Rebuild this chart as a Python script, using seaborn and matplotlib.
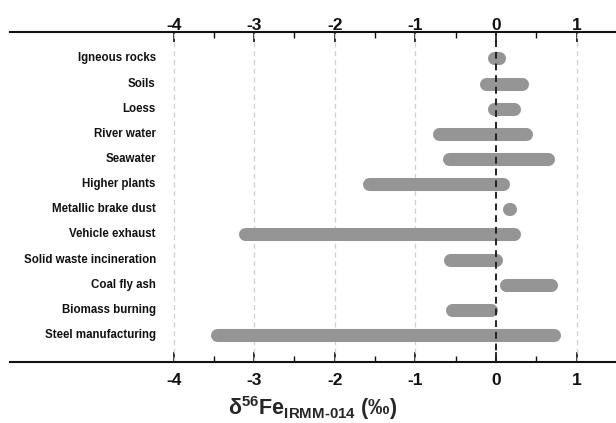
import numpy as np
import pandas as pd
import matplotlib
matplotlib.use("Agg")
import matplotlib.pyplot as plt
import seaborn as sns

# Sources of Fe and their d56Fe ranges (visual extent of each bar, per mil)
sources = ["Igneous rocks", "Soils", "Loess", "River water", "Seawater",
           "Higher plants", "Metallic brake dust", "Vehicle exhaust",
           "Solid waste incineration", "Coal fly ash", "Biomass burning",
           "Steel manufacturing"]
d56_min = [-0.11, -0.20, -0.11, -0.79, -0.66, -1.65, 0.12, -3.20, -0.65, 0.04, -0.62, -3.54]
d56_max = [0.12, 0.40, 0.30, 0.45, 0.73, 0.17, 0.21, 0.30, 0.08, 0.76, 0.02, 0.80]
major_ticks = [-4, -3, -2, -1, 0, 1]
minor_ticks = [-3.5, -2.5, -1.5, -0.5, 0.5]

df = pd.DataFrame({"source": sources, "lo": d56_min, "hi": d56_max})
df["y"] = np.arange(len(df))

sns.set_style("white")
plt.rcParams["font.family"] = ["Liberation Sans", "DejaVu Sans"]
plt.rcParams["mathtext.fontset"] = "custom"
plt.rcParams["mathtext.rm"] = "Liberation Sans:bold"
plt.rcParams["mathtext.bf"] = "Liberation Sans:bold"
plt.rcParams["mathtext.default"] = "bf"

fig = plt.figure(figsize=(6.16, 4.23), dpi=100)
ax = fig.add_axes([10 / 616, 61 / 423, 606 / 616, 330 / 423])
ax.set_xlim(-6.03, 1.49)
ax.set_ylim(len(df) - 1 + 1.07, -1.05)

# grid lines at major ticks, dashed black line at zero
for t in major_ticks:
    if t == 0:
        ax.axvline(t, color="#222222", lw=1.4, ls=(0, (3.5, 2.5)), zorder=3)
    else:
        ax.axvline(t, color="#cfcfcf", lw=0.9, ls=(0, (4, 3)), zorder=1)

# range bars with round ends (shrink ends by the cap radius)
lw_pt = 9.4
px_per_unit = 606 / (1.49 + 6.03)
cap = (lw_pt / 72 * 100 / 2) / px_per_unit
for _, r in df.iterrows():
    half = (r.hi - r.lo) / 2
    c = min(cap, half - 0.004)
    ax.plot([r.lo + c, r.hi - c], [r.y, r.y], color="#959595", lw=lw_pt,
            solid_capstyle="round", zorder=2)
    ax.text(-4.22, r.y, r.source, ha="right", va="center", fontsize=8.3,
            fontweight="bold", color="#111111")

ax.set_yticks([])
ax.set_xticks(major_ticks)
ax.set_xticklabels([str(t) for t in major_ticks], fontweight="bold")
ax.set_xticks(minor_ticks, minor=True)
ax.tick_params(axis="x", which="major", direction="in", length=7, width=1.2,
               top=True, bottom=True, labeltop=False, labelbottom=True,
               labelsize=12.5, pad=8, colors="#111111")
ax.tick_params(axis="x", which="minor", direction="in", length=4.5, width=1.0,
               top=True, bottom=True, colors="#111111")
for side in ["left", "right"]:
    ax.spines[side].set_visible(False)
for side in ["top", "bottom"]:
    ax.spines[side].set_linewidth(1.5)
    ax.spines[side].set_color("#111111")

# labels along the top edge
top = ax.secondary_xaxis("top")
top.set_xticks(major_ticks)
top.set_xticklabels([str(t) for t in major_ticks], fontweight="bold")
top.tick_params(axis="x", length=0, pad=-0.5, labelsize=12.5, colors="#111111")
top.spines["top"].set_visible(False)

ax.set_xlabel(r"δ$^{56}$Fe$_{\text{IRMM-014}}$ (‰)", fontsize=15.5,
              fontweight="bold", labelpad=4)

fig.savefig("out.png", dpi=100)
